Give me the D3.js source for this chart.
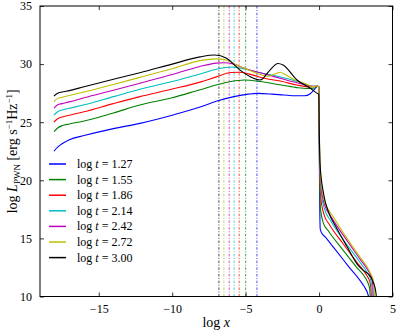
<!DOCTYPE html>
<html>
<head>
<meta charset="utf-8">
<script src="https://cdn.jsdelivr.net/npm/d3@7"></script>
<style>
  body { margin: 0; background: #fff; }
  svg { display: block; }
  text { font-family: "Liberation Serif", "DejaVu Serif", serif; fill: #000; }
</style>
</head>
<body>
<div id="chart"></div>
<script>
/* ============================
   DATA
============================ */
const times = ["1.27", "1.55", "1.86", "2.14", "2.42", "2.72", "3.00"];
const colors = ["#0000ff", "#008000", "#ff0000", "#00bfbf", "#bf00bf", "#bfbf00", "#000000"];

// log x of the dash-dot markers, same order as times
const cutX = [-4.23, -5.0, -5.44, -5.78, -6.12, -6.48, -6.82];

// [log x, log L] pairs for each curve
const curve127 = [[-18.05,22.5],[-17.8,22.85],[-17.5,23.15],[-17,23.5],[-16,23.85],[-14,24.45],[-12.2,24.9],[-10,25.6],[-8.1,26.3],[-7,26.8],[-5.8,27.2],[-4.8,27.42],[-4.2,27.48],[-3.2,27.42],[-2.4,27.34],[-1.6,27.27],[-1.0,27.27],[-0.6,27.45],[-0.3,27.85],[-0.1,28.1],[-0.02,28.05],[0.0,26],[0.03,20],[0.08,15.8],[0.2,15.42],[0.4,15.15],[1.0,14.2],[2.0,12.6],[3.0,11.0],[3.15,10.7],[3.3,10.3],[3.37,10.0]];
const curve155 = [[-18.05,24.18],[-17.8,24.5],[-17.5,24.7],[-17,24.85],[-16,25.1],[-14,25.8],[-12.2,26.48],[-10,27.1],[-8.1,27.8],[-7,28.2],[-6,28.5],[-5.1,28.63],[-4,28.5],[-2.7,28.22],[-1.6,28.0],[-0.8,27.9],[-0.3,27.95],[-0.1,28.1],[-0.02,28.05],[0.0,26],[0.03,21],[0.1,17.5],[0.3,16.3],[0.6,15.7],[1.5,14.2],[2.5,12.6],[3.2,11.5],[3.35,11.1],[3.45,10.6],[3.48,10.0]];
const curve186 = [[-18.05,25.0],[-17.8,25.3],[-17.5,25.45],[-17,25.6],[-16,25.9],[-14,26.6],[-12.2,27.2],[-10,27.85],[-8.1,28.45],[-7,28.9],[-6,29.28],[-5.4,29.3],[-4.5,29.05],[-3.8,28.8],[-2.5,28.5],[-1.5,28.2],[-0.5,28.03],[-0.1,28.1],[-0.02,28.05],[0.0,26],[0.03,22],[0.12,18.5],[0.35,17.0],[0.7,16.2],[1.6,14.6],[2.6,12.9],[3.3,11.7],[3.45,11.3],[3.53,10.7],[3.56,10.0]];
const curve214 = [[-18.05,25.62],[-17.8,25.9],[-17.5,26.05],[-17,26.2],[-16,26.5],[-14,27.2],[-12.2,27.83],[-10,28.5],[-8.1,29.15],[-7,29.55],[-5.9,29.75],[-5,29.55],[-4,29.25],[-3,29.0],[-2,28.7],[-1,28.3],[-0.4,28.08],[-0.1,28.12],[-0.02,28.05],[0.0,26],[0.03,22.5],[0.12,19.3],[0.35,17.6],[0.8,16.5],[1.7,14.8],[2.7,13.1],[3.35,11.9],[3.5,11.5],[3.6,10.8],[3.62,10.0]];
const curve242 = [[-18.05,26.2],[-17.8,26.5],[-17.5,26.6],[-17,26.75],[-16,27.1],[-14,27.75],[-12.2,28.35],[-10,29.1],[-8.1,29.8],[-7,30.08],[-6.5,30.12],[-5.8,30.0],[-5,29.6],[-4,29.25],[-3,28.9],[-2,28.55],[-1,28.25],[-0.4,28.08],[-0.1,28.12],[-0.02,28.05],[0.0,26.5],[0.03,23],[0.12,19.8],[0.35,18.0],[0.9,16.7],[1.8,15.0],[2.8,13.2],[3.4,12.1],[3.55,11.7],[3.66,11.0],[3.69,10.0]];
const curve272 = [[-18.05,26.77],[-17.8,27.05],[-17.5,27.15],[-17,27.3],[-16,27.6],[-14,28.25],[-12.2,28.86],[-10,29.6],[-8.1,30.3],[-7.0,30.45],[-6.3,30.35],[-5.6,29.9],[-4.7,29.45],[-4.0,29.1],[-3.5,28.95],[-3.0,29.15],[-2.65,29.3],[-2.3,29.1],[-1.75,28.7],[-1.0,28.35],[-0.4,28.06],[-0.1,28.12],[-0.02,28.05],[0.0,26.5],[0.03,23.5],[0.12,20.2],[0.35,18.3],[1.0,16.8],[1.9,15.0],[2.9,13.2],[3.3,12.5],[3.5,12.0],[3.65,11.6],[3.75,11.0],[3.77,10.0]];
const curve300 = [[-18.05,27.25],[-17.8,27.5],[-17.5,27.6],[-17,27.72],[-16,28.05],[-14,28.7],[-12.2,29.26],[-10,30.0],[-8.1,30.62],[-7.1,30.78],[-6.3,30.5],[-5.4,29.5],[-4.5,28.8],[-4.0,28.63],[-3.4,29.4],[-2.8,30.05],[-2.45,29.92],[-1.5,28.63],[-0.6,27.92],[-0.15,27.5],[-0.02,27.4],[0.0,26],[0.02,24],[0.06,21.5],[0.3,18.9],[0.7,17.1],[1.1,16.1],[1.9,14.3],[2.65,12.7],[3.0,12.25],[3.45,11.8],[3.7,11.2],[3.85,10.5],[3.9,10.0]];

const curves = [curve127, curve155, curve186, curve214, curve242, curve272, curve300];

const xTicks = [-15, -10, -5, 0, 5];
const yTicks = [10, 15, 20, 25, 30, 35];

/* ============================
   LAYOUT
============================ */
const W = 399, H = 332;
const plot = { left: 40, right: 392.5, top: 6, bottom: 296.5 };

const x = d3.scaleLinear().domain([-19, 5]).range([plot.left, plot.right]);
const y = d3.scaleLinear().domain([10, 35]).range([plot.bottom, plot.top]);

const svg = d3.select("#chart").append("svg")
  .attr("width", W).attr("height", H);

svg.append("defs").append("clipPath").attr("id", "clip")
  .append("rect")
  .attr("x", plot.left).attr("y", plot.top)
  .attr("width", plot.right - plot.left).attr("height", plot.bottom - plot.top);

const g = svg.append("g").attr("clip-path", "url(#clip)");

/* ============================
   MARKERS + CURVES
============================ */
cutX.forEach((v, i) => {
  g.append("line")
    .attr("x1", x(v)).attr("x2", x(v))
    .attr("y1", plot.top).attr("y2", plot.bottom)
    .attr("stroke", colors[i])
    .attr("stroke-width", 1)
    .attr("stroke-dasharray", "2.5,1.6,1,1.6")
    .attr("opacity", 0.7);
});

const line = d3.line()
  .x(d => x(d[0]))
  .y(d => y(d[1]))
  .curve(d3.curveMonotoneX);

curves.forEach((c, i) => {
  g.append("path")
    .attr("d", line(c))
    .attr("fill", "none")
    .attr("stroke", colors[i])
    .attr("stroke-width", 1.1);
});

/* ============================
   AXES (ticks inside, all sides)
============================ */
const tickLen = 4;
const axB = svg.append("g").attr("transform", `translate(0,${plot.bottom})`)
  .call(d3.axisBottom(x).tickValues(xTicks).tickSizeInner(-tickLen).tickSizeOuter(0).tickPadding(8)
    .tickFormat(d => d < 0 ? "\u2212" + Math.abs(d) : d));
const axT = svg.append("g").attr("transform", `translate(0,${plot.top})`)
  .call(d3.axisTop(x).tickValues(xTicks).tickSizeInner(-tickLen).tickSizeOuter(0).tickFormat(""));
const axL = svg.append("g").attr("transform", `translate(${plot.left},0)`)
  .call(d3.axisLeft(y).tickValues(yTicks).tickSizeInner(-tickLen).tickSizeOuter(0).tickPadding(8));
const axR = svg.append("g").attr("transform", `translate(${plot.right},0)`)
  .call(d3.axisRight(y).tickValues(yTicks).tickSizeInner(-tickLen).tickSizeOuter(0).tickFormat(""));

[axB, axT, axL, axR].forEach(a => {
  a.select(".domain").remove();
  a.selectAll("line").attr("stroke", "#000").attr("stroke-width", 0.8);
  a.selectAll("text").attr("font-family", "Liberation Serif, serif").attr("font-size", 12).attr("fill", "#000");
});

svg.append("rect")
  .attr("x", plot.left).attr("y", plot.top)
  .attr("width", plot.right - plot.left).attr("height", plot.bottom - plot.top)
  .attr("fill", "none").attr("stroke", "#000").attr("stroke-width", 1);

/* ============================
   LABELS
============================ */
const xl = svg.append("text")
  .attr("x", (plot.left + plot.right) / 2).attr("y", 327)
  .attr("text-anchor", "middle").attr("font-size", 14);
xl.append("tspan").text("log ");
xl.append("tspan").attr("font-style", "italic").text("x");

const yl = svg.append("text")
  .attr("transform", `translate(17,${(plot.top + plot.bottom) / 2}) rotate(-90)`)
  .attr("text-anchor", "middle").attr("font-size", 14);
yl.append("tspan").text("log ");
yl.append("tspan").attr("font-style", "italic").text("L");
yl.append("tspan").attr("font-size", 9).attr("dy", 3).text("PWN");
yl.append("tspan").attr("dy", -3).text(" [erg s");
yl.append("tspan").attr("font-size", 9).attr("dy", -5).text("\u22121");
yl.append("tspan").attr("dy", 5).text("Hz");
yl.append("tspan").attr("font-size", 9).attr("dy", -5).text("\u22121");
yl.append("tspan").attr("dy", 5).text("]");

/* ============================
   LEGEND (no frame)
============================ */
const leg = svg.append("g");
times.forEach((t, i) => {
  const yy = 164 + i * 15.6;
  leg.append("line")
    .attr("x1", 49).attr("x2", 66).attr("y1", yy).attr("y2", yy)
    .attr("stroke", colors[i]).attr("stroke-width", 1.5);
  const tx = leg.append("text")
    .attr("x", 77).attr("y", yy + 4).attr("font-size", 12);
  tx.append("tspan").text("log ");
  tx.append("tspan").attr("font-style", "italic").text("t");
  tx.append("tspan").text(" = " + t);
});
</script>
</body>
</html>
